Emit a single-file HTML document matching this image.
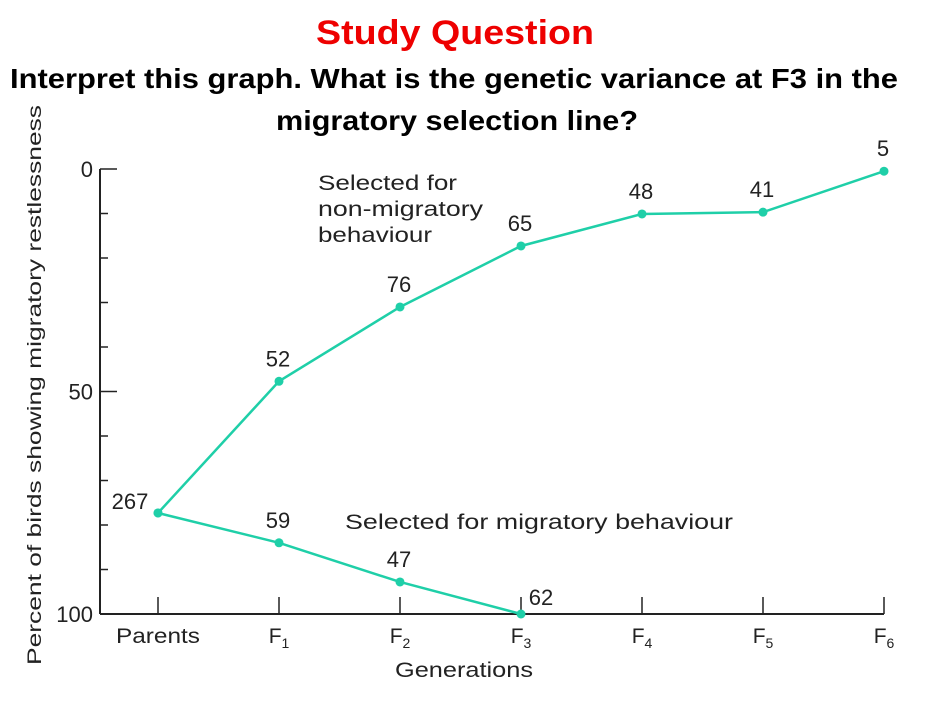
<!DOCTYPE html>
<html><head><meta charset="utf-8"><style>
html,body{margin:0;padding:0;background:#fff;}
svg{display:block;font-family:"Liberation Sans",sans-serif;}
</style></head><body>
<svg width="929" height="706" viewBox="0 0 929 706">
<text x="455" y="44" text-anchor="middle" fill="#ee0000" font-weight="bold" font-size="34" textLength="278" lengthAdjust="spacingAndGlyphs">Study Question</text>
<text x="454" y="88" text-anchor="middle" fill="#000" font-weight="bold" font-size="28" textLength="888" lengthAdjust="spacingAndGlyphs">Interpret this graph. What is the genetic variance at F3 in the</text>
<text x="457" y="130" text-anchor="middle" fill="#000" font-weight="bold" font-size="28" textLength="362" lengthAdjust="spacingAndGlyphs">migratory selection line?</text>
<text transform="translate(41,385) rotate(-90)" text-anchor="middle" font-size="19" fill="#222" textLength="560" lengthAdjust="spacingAndGlyphs">Percent of birds showing migratory restlessness</text>
<text x="395" y="677" font-size="21" fill="#222" textLength="138" lengthAdjust="spacingAndGlyphs">Generations</text>
<g id="axes"></g>
<g id="marks"></g>
<g font-size="21" fill="#222">
<text x="318" y="190" textLength="139" lengthAdjust="spacingAndGlyphs">Selected for</text>
<text x="318" y="216" textLength="165" lengthAdjust="spacingAndGlyphs">non-migratory</text>
<text x="318" y="242" textLength="114" lengthAdjust="spacingAndGlyphs">behaviour</text>
</g>
<text x="345" y="529" font-size="21" fill="#222" textLength="388" lengthAdjust="spacingAndGlyphs">Selected for migratory behaviour</text>
</svg>
<script>
const categories=["Parents","F1","F2","F3","F4","F5","F6"];
const nonMigratory=[77.3,47.7,31,17.3,10.1,9.7,0.5];
const nonMigratoryN=["267","52","76","65","48","41","5"];
const migratory=[77.3,84,92.8,100];
const migratoryN=["","59","47","62"];
const yTicks=[0,50,100];
const NS="http://www.w3.org/2000/svg";
const x=i=>158+i*121;
const y=v=>169+v*4.45;
const col="#1fcfa8";
function mk(tag,attrs,parent,txt){const e=document.createElementNS(NS,tag);for(const k in attrs)e.setAttribute(k,attrs[k]);if(txt!==undefined)e.textContent=txt;parent.appendChild(e);return e;}
const ax=document.getElementById('axes'),mg=document.getElementById('marks');
let e=mk('line',{x1:100,y1:y(0),x2:100,y2:y(100),stroke:'#222','stroke-width':2},ax);

e=mk('line',{x1:100,y1:y(100),x2:x(6),y2:y(100),stroke:'#222','stroke-width':2},ax);

for(let v=0;v<=100;v+=10){const major=v%50===0;
 e=mk('line',{x1:100,y1:y(v),x2:major?117:108,y2:y(v),stroke:'#222','stroke-width':1.5},ax);
 }
yTicks.forEach(v=>{e=mk('text',{x:93,y:y(v)+8,'text-anchor':'end','font-size':22,fill:'#222'},ax,String(v));
 });
categories.forEach((c,i)=>{
 e=mk('line',{x1:x(i),y1:y(100)-17,x2:x(i),y2:y(100),stroke:'#222','stroke-width':1.5},ax);
 
 e=mk('text',{x:x(i),y:643,'text-anchor':'middle','font-size':21,fill:'#222'},ax);
 
 if(c==="Parents"){e.textContent=c;e.setAttribute('textLength','84');e.setAttribute('lengthAdjust','spacingAndGlyphs');}
 else{e.textContent="F";mk('tspan',{'font-size':14,dy:5},e,c.slice(1));}
});
function series(vals,labels,name,offs){
 const pts=vals.map((v,i)=>x(i)+','+y(v)).join(' ');
 let p=mk('polyline',{points:pts,fill:'none',stroke:col,'stroke-width':2.5},mg);
 
 vals.forEach((v,i)=>{let c=mk('circle',{cx:x(i),cy:y(v),r:4.5,fill:col},mg);
  
  if(labels[i]){const o=offs(i);let t=mk('text',{x:x(i)+o[0],y:y(v)+o[1],'text-anchor':'middle','font-size':22,fill:'#222'},mg,labels[i]);
   }});
}
series(nonMigratory,nonMigratoryN,'non-migratory',i=>i===0?[-28,-4]:[-1,-15]);
series(migratory,migratoryN,'migratory',i=>i===3?[20,-9]:[-1,-15]);
</script>
</body></html>
